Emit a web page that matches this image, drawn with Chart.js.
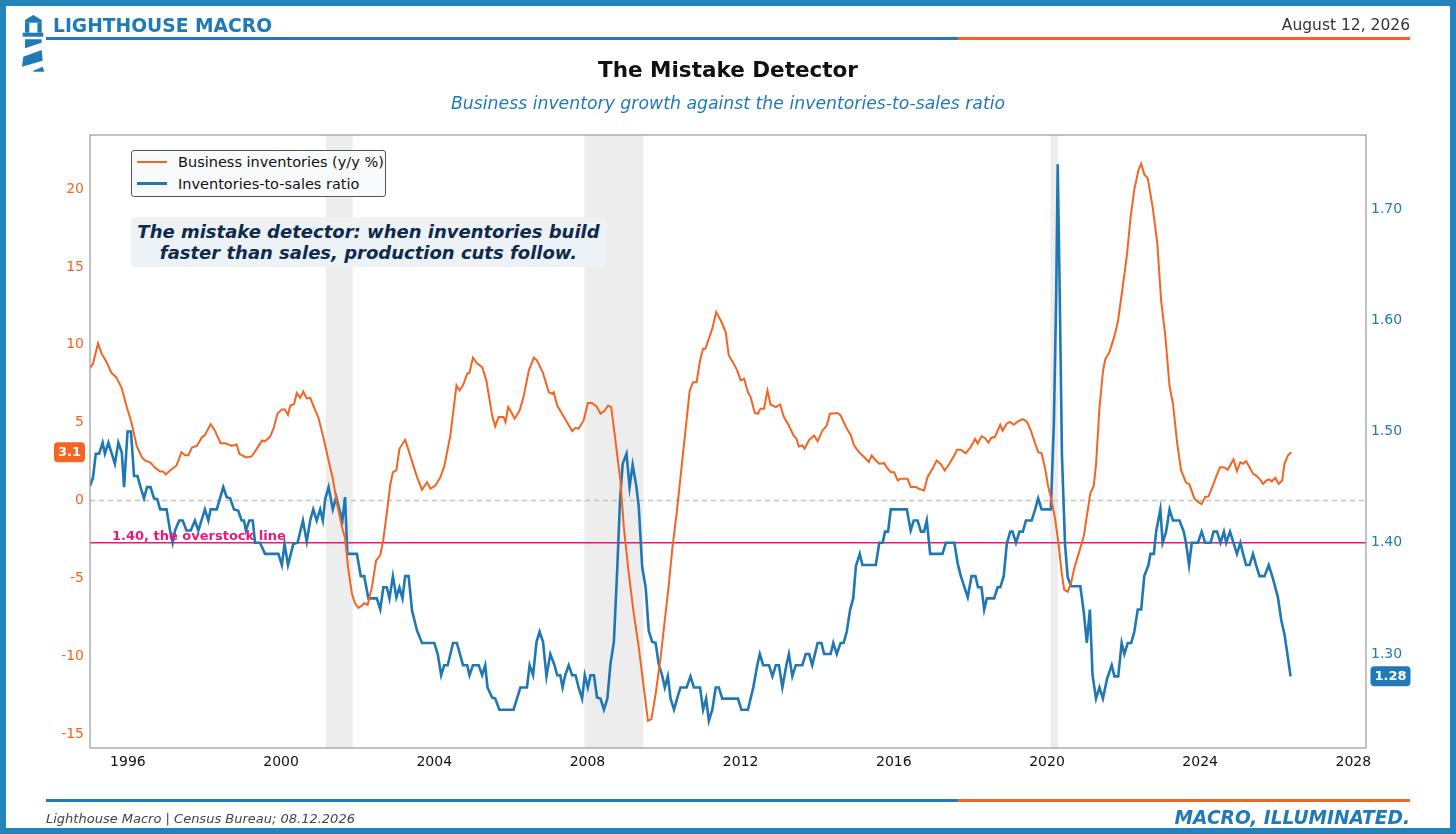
<!DOCTYPE html>
<html>
<head>
<meta charset="utf-8">
<title>The Mistake Detector</title>
<script src="https://cdn.jsdelivr.net/npm/chart.js@4.4.1/dist/chart.umd.min.js"></script>
<style>
  html, body { margin: 0; padding: 0; background: #fff; }
  body { width: 1456px; height: 834px; position: relative; overflow: hidden; font-family: "DejaVu Sans", sans-serif; }
  #frame { position: absolute; left: 0; top: 0; width: 1456px; height: 834px; box-sizing: border-box; border: 6px solid #2384bd; pointer-events: none; z-index: 10; }
  #chart { position: absolute; left: 0; top: 0; }
  .abs { position: absolute; white-space: nowrap; line-height: 1; }
  .rule { position: absolute; height: 3px; }
  #brand { left: 53px; top: 17px; font-size: 18.7px; font-weight: bold; color: #1f7ab5; }
  #date { right: 46px; top: 18px; font-size: 15.5px; color: #333; }
  #title { left: 0; width: 1456px; text-align: center; top: 59px; font-size: 21.5px; font-weight: bold; color: #111; }
  #subtitle { left: 0; width: 1456px; text-align: center; top: 94.5px; font-size: 17.3px; font-style: italic; color: #1f7ab5; }
  #source { left: 46px; top: 812px; font-size: 13px; font-style: italic; color: #444; }
  #motto { right: 46px; top: 809px; font-size: 18.6px; font-style: italic; font-weight: bold; color: #1f7ab5; }
  #legend { position: absolute; left: 131px; top: 150px; width: 253px; height: 45px; border: 1px solid #555; border-radius: 3px; background: #f9fafb; z-index: 3; }
  .lg-line { position: absolute; left: 5px; width: 30px; }
  .lg-text { position: absolute; left: 46px; font-size: 14.5px; color: #111; line-height: 1; white-space: nowrap; }
  #note { position: absolute; left: 131px; top: 217px; width: 475px; height: 50px; background: #edf2f7; border-radius: 4px; text-align: center; z-index: 3; }
  #note div { font-size: 18px; line-height: 21px; font-weight: bold; font-style: italic; color: #0f2a4a; }
</style>
</head>
<body>
<canvas id="chart" width="1456" height="834"></canvas>

<svg style="position:absolute;left:19px;top:13px" width="30" height="62" viewBox="0 0 30 62">
  <g fill="#1f7ab5">
    <polygon points="14.3,2 22.7,7 6,7"/>
    <rect x="6" y="7" width="16.7" height="2.7"/>
    <rect x="6" y="9.7" width="4.3" height="10"/>
    <rect x="18.4" y="9.7" width="4.3" height="10"/>
    <rect x="3.7" y="19.7" width="20.6" height="4"/>
    <polygon points="6,26.3 22.7,26.3 22.7,29.7 6,35.3"/>
    <polygon points="4.3,43.7 22.7,37 23.7,47.7 3,53.7"/>
    <polygon points="14.3,57.7 23.7,53.7 25.3,58.7 14.3,58.7"/>
  </g>
</svg>

<div class="abs" id="brand">LIGHTHOUSE MACRO</div>
<div class="abs" id="date">August 12, 2026</div>
<div class="rule" style="left:46px;top:37px;width:912px;background:#1f7ab5"></div>
<div class="rule" style="left:958px;top:37px;width:452px;background:#f26522"></div>

<div class="abs" id="title">The Mistake Detector</div>
<div class="abs" id="subtitle">Business inventory growth against the inventories-to-sales ratio</div>

<div id="legend">
  <div class="lg-line" style="top:10px;height:2px;background:#f26522"></div>
  <div class="lg-text" style="top:4px">Business inventories (y/y %)</div>
  <div class="lg-line" style="top:31px;height:2.6px;background:#1f78b4"></div>
  <div class="lg-text" style="top:26px">Inventories-to-sales ratio</div>
</div>

<div id="note">
  <div style="padding-top:4px">The mistake detector: when inventories build</div>
  <div>faster than sales, production cuts follow.</div>
</div>

<div class="rule" style="left:46px;top:799px;width:912px;background:#1f7ab5"></div>
<div class="rule" style="left:958px;top:799px;width:452px;background:#f26522"></div>
<div class="abs" id="source">Lighthouse Macro | Census Bureau; 08.12.2026</div>
<div class="abs" id="motto">MACRO, ILLUMINATED.</div>

<div id="frame"></div>

<script>
// Business inventories, y/y % (left axis)
const invDates = [
  1995.01,1995.09,1995.22,1995.31,1995.44,1995.57,1995.70,1995.84,1995.97,1996.10,
  1996.23,1996.36,1996.44,1996.58,1996.71,1996.84,1996.92,1996.99,1997.10,1997.27,
  1997.40,1997.49,1997.58,1997.67,1997.80,1997.93,1998.01,1998.16,1998.27,1998.42,
  1998.54,1998.62,1998.71,1998.84,1998.91,1999.08,1999.23,1999.36,1999.50,1999.58,
  1999.71,1999.80,1999.91,2000.02,2000.10,2000.18,2000.24,2000.34,2000.41,2000.50,
  2000.58,2000.67,2000.76,2000.89,2000.98,2001.11,2001.24,2001.35,2001.46,2001.59,
  2001.67,2001.76,2001.85,2001.93,2002.02,2002.11,2002.17,2002.26,2002.37,2002.48,
  2002.59,2002.67,2002.75,2002.81,2002.85,2002.92,2003.01,2003.09,2003.24,2003.37,
  2003.55,2003.68,2003.81,2003.90,2004.03,2004.16,2004.26,2004.42,2004.58,2004.66,
  2004.75,2004.86,2004.92,2005.01,2005.12,2005.25,2005.36,2005.51,2005.59,2005.68,
  2005.81,2005.86,2005.93,2006.01,2006.10,2006.23,2006.33,2006.47,2006.60,2006.68,
  2006.83,2006.99,2007.08,2007.12,2007.21,2007.36,2007.49,2007.60,2007.69,2007.77,
  2007.90,2008.01,2008.12,2008.24,2008.34,2008.44,2008.54,2008.62,2008.73,2008.86,
  2008.95,2009.08,2009.21,2009.34,2009.47,2009.58,2009.67,2009.78,2009.91,2010.01,
  2010.12,2010.22,2010.33,2010.43,2010.56,2010.67,2010.76,2010.85,2010.94,2011.02,
  2011.08,2011.17,2011.26,2011.36,2011.48,2011.61,2011.69,2011.82,2011.91,2012.00,
  2012.09,2012.19,2012.26,2012.37,2012.45,2012.52,2012.61,2012.70,2012.78,2012.92,
  2013.03,2013.13,2013.26,2013.38,2013.46,2013.52,2013.61,2013.67,2013.79,2013.92,
  2014.01,2014.14,2014.25,2014.33,2014.53,2014.61,2014.75,2014.88,2014.96,2015.09,
  2015.22,2015.35,2015.42,2015.53,2015.62,2015.75,2015.84,2015.92,2016.01,2016.10,
  2016.18,2016.36,2016.44,2016.58,2016.66,2016.79,2016.88,2017.01,2017.12,2017.23,
  2017.33,2017.45,2017.58,2017.65,2017.75,2017.88,2018.01,2018.12,2018.19,2018.29,
  2018.38,2018.47,2018.54,2018.64,2018.78,2018.84,2018.95,2019.04,2019.13,2019.25,
  2019.37,2019.48,2019.58,2019.69,2019.77,2019.86,2019.95,2020.03,2020.12,2020.21,
  2020.30,2020.38,2020.45,2020.54,2020.63,2020.71,2020.85,2020.96,2021.06,2021.13,
  2021.22,2021.28,2021.37,2021.46,2021.52,2021.63,2021.76,2021.85,2021.98,2022.09,
  2022.18,2022.28,2022.39,2022.46,2022.54,2022.63,2022.76,2022.88,2022.98,2023.09,
  2023.20,2023.29,2023.40,2023.50,2023.63,2023.72,2023.85,2023.96,2024.04,2024.13,
  2024.22,2024.33,2024.42,2024.52,2024.62,2024.72,2024.87,2024.96,2025.05,2025.12,
  2025.20,2025.29,2025.38,2025.46,2025.55,2025.64,2025.73,2025.81,2025.87,2025.96,
  2026.05,2026.14,2026.20,2026.29,2026.38
];
const invYoy = [
  8.5,8.8,10.1,9.45,8.9,8.2,7.9,7.2,6.0,4.95,
  3.5,2.8,2.57,2.45,2.1,1.87,1.87,1.67,1.93,2.25,
  3.1,2.9,2.9,3.4,3.5,4.05,4.2,4.9,4.5,3.67,
  3.67,3.6,3.5,3.6,3.0,2.77,2.83,3.3,3.86,3.8,
  4.1,4.6,5.6,5.85,5.85,5.5,6.1,6.2,6.9,6.6,
  7.0,6.56,6.6,5.8,5.27,4.0,2.57,1.4,-0.2,-1.7,
  -2.4,-4.5,-6.0,-6.6,-6.9,-6.75,-6.6,-6.7,-5.6,-3.86,
  -3.5,-2.5,-1.0,0.2,1.0,1.82,1.93,3.32,3.9,2.9,
  1.5,0.69,1.18,0.75,0.96,1.5,2.19,4.18,7.4,7.07,
  7.4,8.15,8.19,9.18,8.8,8.57,7.72,5.47,4.76,5.36,
  5.36,5.04,6.0,5.68,5.25,5.79,6.64,8.36,9.18,9.0,
  8.25,6.96,6.86,6.96,6.1,5.47,4.93,4.46,4.67,4.61,
  5.14,6.26,6.26,6.05,5.57,5.74,6.1,6.0,3.86,1.29,
  -1.72,-4.72,-7.29,-9.43,-12.0,-14.15,-14.04,-12.43,-10.1,-7.9,
  -5.5,-3.0,-0.8,1.5,4.5,7.07,7.6,7.6,9.0,9.75,
  9.75,10.4,11.04,12.1,11.58,10.82,9.32,8.79,8.36,7.72,
  7.82,6.96,6.64,5.62,5.57,5.9,5.9,7.07,6.17,6.0,
  6.17,5.36,4.82,4.18,3.97,3.47,3.54,3.32,3.9,4.18,
  3.81,4.5,4.82,5.57,5.62,5.47,4.72,4.18,3.54,3.11,
  2.79,2.47,2.9,2.57,2.36,2.4,2.04,1.82,1.82,1.29,
  1.39,1.39,0.86,0.86,0.75,0.64,1.5,2.04,2.57,2.33,
  1.93,2.36,2.9,3.26,3.26,3.03,3.45,3.95,3.67,4.13,
  4.02,3.72,4.02,4.09,4.87,4.48,4.94,5.05,4.87,5.1,
  5.22,5.05,4.48,3.67,3.1,3.03,2.06,0.92,0.0,-1.15,
  -2.76,-4.59,-5.74,-5.86,-5.28,-4.37,-3.22,-2.3,-0.69,0.46,
  0.92,2.3,5.97,8.27,9.07,9.53,10.56,11.48,13.78,15.85,
  18.14,19.98,21.25,21.64,20.95,20.71,18.83,16.53,12.86,10.56,
  7.35,6.2,3.67,1.95,1.15,1.04,0.12,-0.12,-0.23,0.23,
  0.26,0.96,1.55,2.14,2.14,1.97,2.64,1.89,2.46,2.36,
  2.53,2.14,1.71,1.6,1.39,1.07,1.29,1.35,1.22,1.46,
  1.07,1.29,2.36,2.89,3.1
];

// Inventories-to-sales ratio (right axis)
const isDates = [
  1995.01,1995.09,1995.16,1995.25,1995.34,1995.40,1995.49,1995.57,1995.66,1995.75,
  1995.84,1995.90,1995.99,1996.08,1996.16,1996.25,1996.33,1996.42,1996.50,1996.59,
  1996.68,1996.77,1996.84,1997.01,1997.10,1997.17,1997.23,1997.34,1997.43,1997.53,
  1997.64,1997.75,1997.84,1998.01,1998.10,1998.16,1998.32,1998.49,1998.58,1998.67,
  1998.77,1998.88,1998.97,1999.03,1999.08,1999.17,1999.26,1999.32,1999.45,1999.58,
  1999.93,2000.02,2000.09,2000.18,2000.32,2000.43,2000.57,2000.67,2000.76,2000.84,
  2000.93,2001.02,2001.09,2001.15,2001.24,2001.35,2001.44,2001.52,2001.60,2001.67,
  2001.73,2001.98,2002.08,2002.17,2002.28,2002.50,2002.59,2002.67,2002.76,2002.83,
  2002.92,2003.01,2003.09,2003.17,2003.24,2003.33,2003.42,2003.55,2003.68,2004.00,
  2004.09,2004.18,2004.26,2004.35,2004.49,2004.59,2004.75,2004.86,2004.92,2005.01,
  2005.16,2005.25,2005.33,2005.39,2005.51,2005.59,2005.70,2006.07,2006.25,2006.42,
  2006.49,2006.58,2006.67,2006.75,2006.84,2006.93,2007.03,2007.14,2007.21,2007.29,
  2007.35,2007.42,2007.51,2007.60,2007.69,2007.77,2007.86,2007.93,2008.01,2008.08,
  2008.17,2008.25,2008.34,2008.43,2008.52,2008.60,2008.69,2008.78,2008.85,2008.92,
  2009.02,2009.10,2009.18,2009.28,2009.34,2009.43,2009.52,2009.60,2009.69,2009.78,
  2009.86,2009.95,2010.02,2010.10,2010.17,2010.26,2010.35,2010.43,2010.59,2010.69,
  2010.78,2010.94,2011.02,2011.10,2011.17,2011.26,2011.35,2011.43,2011.52,2011.93,
  2012.02,2012.19,2012.33,2012.44,2012.50,2012.59,2012.74,2012.83,2012.92,2013.00,
  2013.09,2013.20,2013.26,2013.35,2013.44,2013.61,2013.70,2013.79,2013.87,2014.01,
  2014.11,2014.18,2014.35,2014.42,2014.51,2014.61,2014.69,2014.77,2014.86,2014.94,
  2015.01,2015.11,2015.18,2015.53,2015.62,2015.71,2015.77,2015.85,2015.92,2016.34,
  2016.44,2016.52,2016.62,2016.71,2016.79,2016.86,2016.95,2017.27,2017.36,2017.58,
  2017.67,2017.75,2017.93,2018.03,2018.13,2018.20,2018.29,2018.36,2018.43,2018.62,
  2018.71,2018.78,2018.87,2018.95,2019.04,2019.10,2019.19,2019.28,2019.37,2019.45,
  2019.60,2019.69,2019.77,2019.86,2020.10,2020.18,2020.24,2020.28,2020.33,2020.39,
  2020.47,2020.54,2020.63,2020.87,2020.96,2021.04,2021.12,2021.19,2021.28,2021.37,
  2021.46,2021.57,2021.69,2021.76,2021.86,2021.95,2022.02,2022.11,2022.20,2022.28,
  2022.37,2022.46,2022.54,2022.65,2022.70,2022.79,2022.85,2022.96,2023.02,2023.11,
  2023.20,2023.29,2023.46,2023.57,2023.63,2023.71,2023.78,2023.94,2024.04,2024.13,
  2024.27,2024.35,2024.44,2024.53,2024.62,2024.68,2024.78,2024.87,2024.96,2025.05,
  2025.12,2025.20,2025.29,2025.38,2025.46,2025.55,2025.68,2025.79,2025.89,2026.03,
  2026.12,2026.20,2026.29,2026.36
];
const isRatio = [
  1.451,1.459,1.480,1.480,1.490,1.480,1.490,1.481,1.471,1.490,
  1.481,1.450,1.500,1.500,1.460,1.460,1.450,1.440,1.450,1.450,
  1.440,1.439,1.430,1.430,1.411,1.400,1.411,1.420,1.420,1.411,
  1.411,1.420,1.411,1.430,1.420,1.430,1.430,1.450,1.441,1.440,
  1.430,1.429,1.420,1.420,1.411,1.420,1.420,1.400,1.400,1.390,
  1.390,1.380,1.399,1.380,1.399,1.400,1.420,1.401,1.420,1.430,
  1.420,1.430,1.420,1.439,1.450,1.430,1.441,1.430,1.420,1.441,
  1.390,1.390,1.370,1.370,1.350,1.350,1.340,1.360,1.360,1.350,
  1.370,1.351,1.360,1.350,1.370,1.370,1.339,1.321,1.310,1.310,
  1.300,1.281,1.290,1.290,1.310,1.310,1.290,1.290,1.281,1.290,
  1.290,1.281,1.290,1.270,1.261,1.260,1.250,1.250,1.270,1.270,
  1.290,1.281,1.311,1.320,1.311,1.280,1.300,1.290,1.281,1.281,
  1.270,1.281,1.290,1.281,1.281,1.270,1.260,1.281,1.270,1.281,
  1.281,1.261,1.260,1.250,1.260,1.291,1.311,1.378,1.438,1.471,
  1.480,1.450,1.470,1.450,1.432,1.378,1.360,1.321,1.311,1.310,
  1.291,1.281,1.270,1.280,1.260,1.250,1.261,1.270,1.270,1.280,
  1.270,1.270,1.250,1.260,1.240,1.250,1.270,1.270,1.260,1.260,
  1.250,1.250,1.270,1.291,1.300,1.290,1.290,1.280,1.290,1.290,
  1.270,1.291,1.300,1.280,1.290,1.290,1.300,1.300,1.290,1.310,
  1.310,1.300,1.300,1.310,1.300,1.310,1.310,1.320,1.340,1.350,
  1.379,1.390,1.380,1.380,1.400,1.400,1.410,1.410,1.430,1.430,
  1.411,1.420,1.420,1.410,1.410,1.420,1.390,1.390,1.400,1.400,
  1.381,1.370,1.351,1.370,1.370,1.360,1.360,1.340,1.350,1.350,
  1.360,1.360,1.370,1.399,1.410,1.410,1.400,1.410,1.410,1.420,
  1.420,1.430,1.440,1.430,1.430,1.508,1.623,1.740,1.630,1.479,
  1.399,1.369,1.361,1.361,1.338,1.310,1.340,1.281,1.260,1.270,
  1.260,1.278,1.290,1.280,1.280,1.310,1.300,1.310,1.310,1.320,
  1.340,1.340,1.370,1.380,1.390,1.390,1.410,1.430,1.400,1.410,
  1.430,1.420,1.420,1.410,1.400,1.380,1.400,1.400,1.410,1.400,
  1.400,1.410,1.410,1.400,1.410,1.400,1.410,1.400,1.390,1.400,
  1.390,1.380,1.380,1.390,1.380,1.370,1.370,1.380,1.369,1.351,
  1.330,1.318,1.297,1.280
];

// NBER recessions (shaded)
const recStart = [2001.17, 2007.92, 2020.09];
const recEnd = [2001.87, 2009.46, 2020.29];

const xTicks = [1996, 2000, 2004, 2008, 2012, 2016, 2020, 2024, 2028];
const leftTicks = [-15, -10, -5, 0, 5, 10, 15, 20];
const rightTicks = [1.30, 1.40, 1.50, 1.60, 1.70];
const overstock = 1.40;

const ORANGE = '#f26522';
const BLUE = '#1f78b4';
const MAGENTA = '#e8197c';
const FONT = 'DejaVu Sans';

if (invDates.length !== invYoy.length || isDates.length !== isRatio.length) {
  console.warn('series length mismatch', invDates.length, invYoy.length, isDates.length, isRatio.length);
}

// shading, reference lines, frame and end-value badges
const decor = {
  id: 'decor',
  beforeDatasetsDraw(chart) {
    const { ctx, chartArea: a, scales } = chart;
    ctx.save();
    ctx.fillStyle = 'rgba(128,128,128,0.14)';
    recStart.forEach((s, i) => {
      const x0 = scales.x.getPixelForValue(s);
      const x1 = scales.x.getPixelForValue(recEnd[i]);
      ctx.fillRect(x0, a.top, x1 - x0, a.bottom - a.top);
    });
    const y0 = scales.y.getPixelForValue(0);
    ctx.setLineDash([5, 4]);
    ctx.strokeStyle = '#c4c4c4';
    ctx.lineWidth = 1.3;
    ctx.beginPath(); ctx.moveTo(a.left, y0); ctx.lineTo(a.right, y0); ctx.stroke();
    ctx.setLineDash([]);
    const yo = scales.y1.getPixelForValue(overstock);
    ctx.strokeStyle = MAGENTA;
    ctx.lineWidth = 1.5;
    ctx.beginPath(); ctx.moveTo(a.left, yo); ctx.lineTo(a.right, yo); ctx.stroke();
    ctx.restore();
  },
  afterDatasetsDraw(chart) {
    const { ctx, chartArea: a, scales } = chart;
    ctx.save();
    const yo = scales.y1.getPixelForValue(overstock);
    ctx.font = 'bold 13px "' + FONT + '"';
    ctx.fillStyle = MAGENTA;
    ctx.textBaseline = 'alphabetic';
    ctx.fillText(overstock.toFixed(2) + ', the overstock line', a.left + 22, yo - 3);
    ctx.strokeStyle = '#a0a0a0';
    ctx.lineWidth = 1.3;
    ctx.strokeRect(a.left, a.top, a.right - a.left, a.bottom - a.top);
    ctx.restore();
  },
  afterDraw(chart) {
    const { ctx, chartArea: a, scales } = chart;
    const badge = (text, color, x, yc, w) => {
      ctx.fillStyle = color;
      ctx.beginPath();
      ctx.roundRect(x, yc - 10, w, 20, 4);
      ctx.fill();
      ctx.fillStyle = '#fff';
      ctx.font = 'bold 13px "' + FONT + '"';
      ctx.textAlign = 'center';
      ctx.textBaseline = 'middle';
      ctx.fillText(text, x + w / 2, yc + 0.5);
    };
    ctx.save();
    const lastInv = invYoy[invYoy.length - 1];
    const lastIs = isRatio[isRatio.length - 1];
    badge(lastInv.toFixed(1), ORANGE, a.left - 36, scales.y.getPixelForValue(lastInv), 31);
    badge(lastIs.toFixed(2), '#1f7ab5', a.right + 4.5, scales.y1.getPixelForValue(lastIs), 40);
    ctx.restore();
  }
};

const tickFont = { family: FONT, size: 14 };

new Chart(document.getElementById('chart'), {
  type: 'line',
  data: {
    datasets: [
      {
        label: 'Business inventories (y/y %)',
        data: invDates.map((d, i) => ({ x: d, y: invYoy[i] })),
        borderColor: ORANGE,
        borderWidth: 2,
        pointRadius: 0,
        tension: 0,
        yAxisID: 'y'
      },
      {
        label: 'Inventories-to-sales ratio',
        data: isDates.map((d, i) => ({ x: d, y: isRatio[i] })),
        borderColor: BLUE,
        borderWidth: 2.6,
        pointRadius: 0,
        tension: 0,
        yAxisID: 'y1'
      }
    ]
  },
  options: {
    responsive: false,
    animation: false,
    events: [],
    layout: { padding: { left: 40, right: 40, top: 135, bottom: 56 } },
    plugins: {
      legend: { display: false },
      tooltip: { enabled: false }
    },
    scales: {
      x: {
        type: 'linear',
        min: 1995.01,
        max: 2028.33,
        grid: { display: false, drawTicks: false },
        border: { display: false },
        ticks: { color: '#111', font: tickFont, padding: 6, maxRotation: 0, autoSkip: false, callback: v => String(v) },
        afterBuildTicks: s => { s.ticks = xTicks.map(v => ({ value: v })); },
        afterFit: s => { s.height = 30; }
      },
      y: {
        position: 'left',
        min: -15.9,
        max: 23.48,
        grid: { display: false, drawTicks: false },
        border: { display: false },
        ticks: { color: ORANGE, font: tickFont, padding: 6, callback: v => String(v) },
        afterBuildTicks: s => { s.ticks = leftTicks.map(v => ({ value: v })); },
        afterFit: s => { s.width = 50; }
      },
      y1: {
        position: 'right',
        min: 1.2156,
        max: 1.7664,
        grid: { display: false, drawTicks: false },
        border: { display: false },
        ticks: { color: '#1f7ab5', font: tickFont, padding: 5, callback: v => Number(v).toFixed(2) },
        afterBuildTicks: s => { s.ticks = rightTicks.map(v => ({ value: v })); },
        afterFit: s => { s.width = 50; }
      }
    }
  },
  plugins: [decor]
});
</script>
</body>
</html>
